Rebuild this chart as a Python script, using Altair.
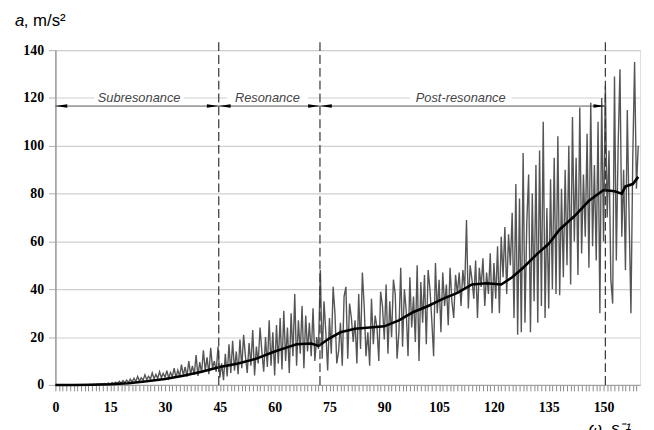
import altair as alt
import pandas as pd

# ---- noisy (raw) acceleration signal, one value every 0.5 s^-1, per decade of ω ----
noise_000 = [0, 0, 0, 0, 0, 0, 0, 0, 0, 0, 0, 0, 0, 0.1, 0, 0.1, 0, 0.1, 0.1, 0.2]
noise_010 = [0.1, 0.3, 0.1, 0.4, 0.2, 0.5, 0.3, 0.6, 0.3, 0.8, 0.4, 1.0, 0.5, 1.2, 0.6, 1.5, 0.7, 1.8, 0.9, 2.0]
noise_020 = [1.0, 2.4, 1.2, 2.8, 1.4, 3.5, 1.6, 3.0, 2.0, 4.2, 2.2, 3.6, 2.4, 5.0, 2.6, 4.4, 2.8, 5.5, 3.0, 4.8]
noise_030 = [3.2, 6.0, 2.8, 5.2, 3.5, 7.0, 3.0, 6.2, 3.6, 8.5, 4.0, 7.5, 3.5, 10.0, 4.5, 8.0, 4.2, 12.5, 3.8, 9.5]
noise_040 = [5.0, 14.5, 6.0, 11.5, 4.5, 15.5, 7.0, 10.0, 5.5, 16.0, 3.0, 9.0, 2.0, 13.0, 3.5, 17.0, 5.0, 18.5, 6.0, 14.0]
noise_050 = [4.5, 19.0, 7.0, 21.0, 12.0, 5.0, 17.5, 8.0, 23.0, 4.0, 16.0, 9.0, 24.0, 14.0, 5.5, 20.0, 7.5, 27.0, 8.0, 22.0]
noise_060 = [4.0, 25.0, 9.0, 28.0, 6.5, 31.0, 10.0, 24.0, 5.0, 30.0, 12.0, 38.0, 8.0, 27.0, 13.0, 33.0, 7.0, 29.0, 14.0, 26.0]
noise_070 = [12.0, 32.0, 10.0, 20.0, 15.0, 48.0, 11.0, 35.0, 22.0, 6.0, 28.0, 13.0, 41.0, 30.0, 9.0, 14.0, 26.0, 8.0, 37.0, 41.0]
noise_080 = [11.0, 34.0, 28.0, 18.0, 27.0, 9.0, 38.0, 15.0, 47.0, 33.0, 12.0, 22.0, 8.0, 36.0, 17.0, 29.0, 24.0, 10.0, 39.0, 33.0]
noise_090 = [19.0, 42.0, 13.0, 35.0, 20.0, 44.0, 38.0, 11.0, 22.0, 49.0, 16.0, 40.0, 31.0, 12.0, 45.0, 24.0, 37.0, 18.0, 50.0, 10.0]
noise_100 = [43.0, 26.0, 46.0, 17.0, 48.0, 40.0, 27.0, 12.0, 51.0, 30.0, 44.0, 22.0, 47.0, 33.0, 42.0, 25.0, 49.0, 35.0, 28.0, 46.0]
noise_110 = [38.0, 47.0, 33.0, 48.0, 40.0, 69.0, 32.0, 50.0, 44.0, 36.0, 52.0, 28.0, 49.0, 41.0, 53.0, 33.0, 47.0, 38.0, 55.0, 30.0]
noise_120 = [51.0, 36.0, 58.0, 30.0, 62.0, 45.0, 66.0, 38.0, 63.0, 50.0, 72.0, 28.0, 84.0, 21.0, 78.0, 22.0, 97.0, 26.0, 68.0, 88.0]
noise_130 = [22.0, 80.0, 35.0, 92.0, 26.0, 98.0, 33.0, 110.0, 28.0, 74.0, 32.0, 86.0, 40.0, 95.0, 38.0, 104.0, 37.5, 82.0, 45.0, 90.0]
noise_140 = [50.0, 100.0, 42.0, 112.0, 60.0, 95.0, 46.0, 116.0, 55.0, 88.0, 62.0, 105.0, 49.0, 118.0, 58.0, 92.0, 52.0, 110.0, 30.0, 120.0]
noise_150 = [60.0, 125.0, 70.0, 98.0, 44.0, 34.0, 129.0, 52.0, 100.0, 132.0, 62.0, 90.0, 48.0, 115.0, 70.0, 30.0, 95.0, 135.0, 82.0, 100.0]

# ---- smoothed (mean) curve ----
smooth_w = [0, 5, 10, 15, 20, 25, 30, 35, 40, 45, 50, 55, 60, 63, 66, 70, 72, 75, 78, 82,
            86, 90, 94, 98, 102, 106, 110, 114, 118, 122, 125, 128, 132, 135, 138, 142, 146, 150, 153, 155,
            156, 158, 159.5]
smooth_a = [0, 0, 0.1, 0.3, 0.7, 1.5, 2.5, 3.8, 5.5, 7.5, 9, 11, 14, 15.5, 17, 17.3, 16.3, 19.5, 22, 23.5,
            24, 24.5, 27, 30.5, 33, 36, 38.5, 42, 42.5, 42, 45, 49, 55, 59, 65, 70.5, 77, 81.5, 81, 80,
            83, 84, 87]

# ---- zones ----
zone_names = ["Subresonance", "Resonance", "Post-resonance"]
zone_start = [0, 44.7, 72.4]
zone_end = [44.7, 72.4, 150.5]
zone_label_w = [22.9, 58.0, 110.9]
zone_gap_half = [12.3, 11.0, 13.9]
boundaries = [44.7, 72.4, 150.5]
label_a = 120
arrow_a = 116.6

x_ticks = list(range(0, 160))
y_ticks = [0, 20, 40, 60, 80, 100, 120, 140]

noise_vals = (noise_000 + noise_010 + noise_020 + noise_030 + noise_040 + noise_050 + noise_060 +
              noise_070 + noise_080 + noise_090 + noise_100 + noise_110 + noise_120 + noise_130 +
              noise_140 + noise_150)
noise_df = pd.DataFrame({"w": [i * 0.5 for i in range(len(noise_vals))], "a": noise_vals})
smooth_df = pd.DataFrame({"w": smooth_w, "a": smooth_a})
bound_df = pd.DataFrame({"w": boundaries, "a0": [0] * 3, "a1": [144] * 3})
zone_df = pd.DataFrame({
    "name": zone_names, "w0": zone_start, "w1": zone_end, "wl": zone_label_w,
    "g0": [c - h for c, h in zip(zone_label_w, zone_gap_half)],
    "g1": [c + h for c, h in zip(zone_label_w, zone_gap_half)],
    "la": [label_a] * 3, "la0": [label_a - 1.4] * 3, "la1": [label_a + 1.4] * 3,
    "aa": [arrow_a] * 3,
})

xs = alt.Scale(domain=[0, 160], nice=False, zero=False)
ys = alt.Scale(domain=[0, 140], nice=False)

x_axis = alt.Axis(values=x_ticks, labelExpr="datum.value % 15 === 0 ? datum.label : ''",
                  labelOverlap=False, labelFlush=False, labelBound=False, format="d",
                  labelFont="Liberation Serif", labelFontWeight="bold", labelFontSize=14,
                  labelColor="black", labelPadding=10, tickSize=6, tickColor="#8a8a8a",
                  tickWidth=1, domainColor="#9a9a9a", grid=False, title=None)
y_axis = alt.Axis(values=y_ticks, grid=True, gridColor="#cfcfcf", gridWidth=1.2,
                  tickSize=7, tickColor="#b0b0b0", domainColor="#9a9a9a", domainWidth=1.5,
                  labelFont="Liberation Serif", labelFontWeight="bold", labelFontSize=14,
                  labelColor="black", labelPadding=5, title=None)

X = lambda f: alt.X(f, type="quantitative", scale=xs, axis=x_axis)
Y = lambda f: alt.Y(f, type="quantitative", scale=ys, axis=y_axis)

noise = alt.Chart(noise_df).mark_line(color="#555555", strokeWidth=1.4).encode(x=X("w"), y=Y("a"))
smooth = alt.Chart(smooth_df).mark_line(color="black", strokeWidth=2.6).encode(x=X("w"), y=Y("a"))
bounds = alt.Chart(bound_df).mark_rule(color="#333333", strokeWidth=1.2, strokeDash=[9, 4]).encode(
    x=X("w"), y=Y("a0"), y2="a1")
gaps = alt.Chart(zone_df).mark_rect(color="white").encode(x=X("g0"), x2="g1", y=Y("la0"), y2="la1")
labels = alt.Chart(zone_df).mark_text(font="Liberation Sans", fontStyle="italic", fontSize=13,
                                      color="#444444", baseline="middle", align="center").encode(
    x=X("wl"), y=Y("la"), text="name:N")
arrows = alt.Chart(zone_df).mark_rule(color="#555555", strokeWidth=1).encode(
    x=X("w0"), x2="w1", y=Y("aa"))
head_l = alt.Chart(zone_df).mark_point(shape="M0,0L2,-0.3L2,0.3Z", size=144, filled=True,
                                       color="black", opacity=1, strokeWidth=0).encode(
    x=X("w0"), y=Y("aa"))
head_r = alt.Chart(zone_df).mark_point(shape="M0,0L-2,-0.3L-2,0.3Z", size=144, filled=True,
                                       color="black", opacity=1, strokeWidth=0).encode(
    x=X("w1"), y=Y("aa"))

ylab_a = alt.Chart(pd.DataFrame({"t": ["a"]})).mark_text(
    font="Liberation Sans", fontStyle="italic", fontSize=17, align="left", baseline="alphabetic",
    color="black").encode(x=alt.value(-41), y=alt.value(-24), text="t:N")
ylab_u = alt.Chart(pd.DataFrame({"t": [", m/s²"]})).mark_text(
    font="Liberation Sans", fontSize=17, align="left", baseline="alphabetic",
    color="black").encode(x=alt.value(-32), y=alt.value(-24), text="t:N")
xlab = alt.Chart(pd.DataFrame({"t": ["ω, s⁻¹"]})).mark_text(
    font="Liberation Sans", fontStyle="italic", fontSize=17, align="left", baseline="alphabetic",
    color="black").encode(x=alt.value(540), y=alt.value(389), text="t:N")

chart = alt.layer(noise, smooth, bounds, gaps, labels, arrows, head_l, head_r, ylab_a, ylab_u, xlab).properties(
    width=592, height=339,
    autosize=alt.AutoSizeParams(type="none"),
    padding={"left": 48, "top": 40, "right": 6, "bottom": 43},
).configure_view(stroke=None).configure(background="white")

chart.save("out.html", embed_options={"renderer": "svg", "actions": False})
